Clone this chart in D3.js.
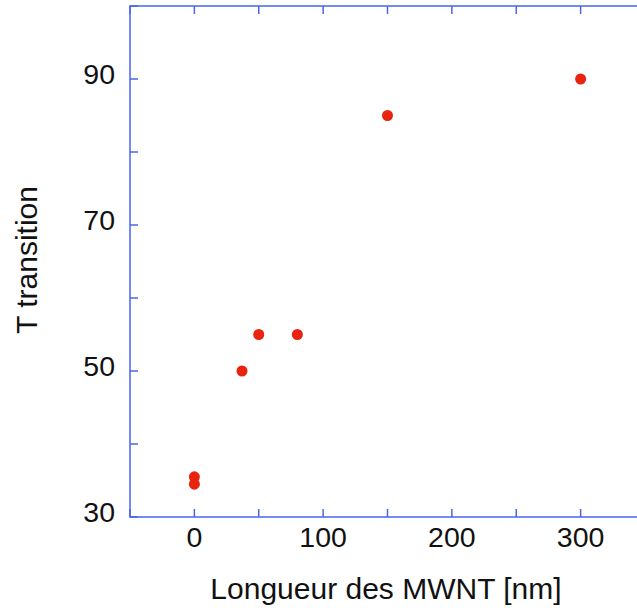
<!DOCTYPE html>
<html><head><meta charset="utf-8">
<script src="https://cdn.jsdelivr.net/npm/d3@7/dist/d3.min.js"></script>
<style>body{margin:0;background:#fff}svg{display:block}</style>
</head><body><svg id="c" width="637" height="608"></svg>
<script>
const lengths = [0, 0, 37, 50, 80, 150, 300];
const tTransition = [35.5, 34.5, 50, 55, 55, 85, 90];
const xTickLabels = [0, 100, 200, 300];
const yTickLabels = [30, 50, 70, 90];
const xTicksAll = [-50, 0, 50, 100, 150, 200, 250, 300, 350];
const yTicksAll = [30, 40, 50, 60, 70, 80, 90, 100];

const svg = d3.select("#c");
const L = 130, R = 645, T = 6, B = 517;
const x = d3.scaleLinear().domain([-50, 350]).range([L, R]);
const y = d3.scaleLinear().domain([30, 100]).range([B, T]);
const axisColor = "#4a64ee";
const font = "Liberation Sans, Arial, Helvetica, sans-serif";

// frame
svg.append("rect").attr("x", L).attr("y", T).attr("width", R - L).attr("height", B - T)
  .attr("fill", "none").attr("stroke", axisColor).attr("stroke-width", 1.5);

const tl = 8;
const g = svg.append("g").attr("stroke", axisColor).attr("stroke-width", 1.5);
xTicksAll.forEach(v => {
  g.append("line").attr("x1", x(v)).attr("x2", x(v)).attr("y1", B).attr("y2", B - tl);
  g.append("line").attr("x1", x(v)).attr("x2", x(v)).attr("y1", T).attr("y2", T + tl);
});
yTicksAll.forEach(v => {
  g.append("line").attr("x1", L).attr("x2", L + tl).attr("y1", y(v)).attr("y2", y(v));
  g.append("line").attr("x1", R).attr("x2", R - tl).attr("y1", y(v)).attr("y2", y(v));
});

// tick labels
svg.selectAll(".xl").data(xTickLabels).enter().append("text")
  .attr("x", d => x(d)).attr("y", B + 30).attr("text-anchor", "middle")
  .attr("font-family", font).attr("font-size", 28.5).attr("fill", "#111").text(d => d);
svg.selectAll(".yl").data(yTickLabels).enter().append("text")
  .attr("x", L - 15).attr("y", d => y(d) + 5).attr("text-anchor", "end")
  .attr("font-family", font).attr("font-size", 28.5).attr("fill", "#111").text(d => d);

// axis titles
svg.append("text").attr("x", (211 + 561) / 2).attr("y", 599).attr("text-anchor", "middle")
  .attr("font-family", font).attr("font-size", 30).attr("fill", "#111")
  .text("Longueur des MWNT [nm]");
svg.append("text").attr("transform", "translate(37,260) rotate(-90)").attr("text-anchor", "middle")
  .attr("font-family", font).attr("font-size", 30).attr("fill", "#111")
  .text("T transition");

// points
svg.selectAll(".pt").data(lengths.map((v, i) => [v, tTransition[i]])).enter().append("circle")
  .attr("cx", d => x(d[0])).attr("cy", d => y(d[1])).attr("r", 5.5).attr("fill", "#e8230e");
</script></body></html>
